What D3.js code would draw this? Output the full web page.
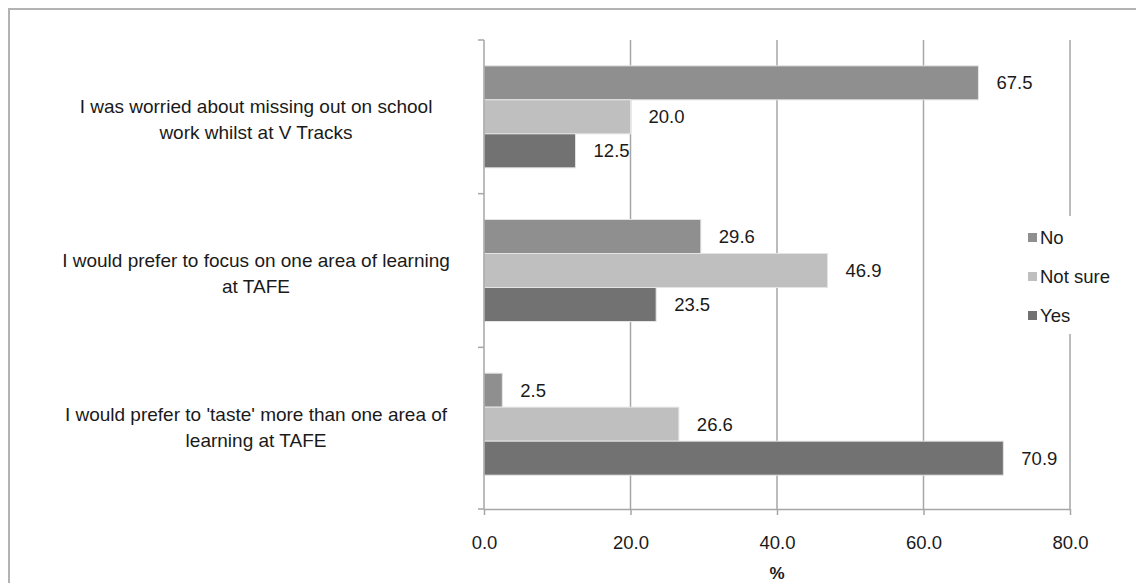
<html>
<head>
<meta charset="utf-8">
<script src="https://d3js.org/d3.v7.min.js"></script>
<style>
    body { margin: 0; background: #fff; }
    text { font-family: "Liberation Sans", Arial, sans-serif; fill: #1a1a1a; }
</style>
</head>
<body>
<div id="chart"></div>
<script>
    // data
    var categories = [
        "I was worried about missing out on school\nwork whilst at V Tracks",
        "I would prefer to focus on one area of learning\nat TAFE",
        "I would prefer to 'taste' more than one area of\nlearning at TAFE"
    ];
    var seriesNames = ["No", "Not sure", "Yes"];
    var noValues = [67.5, 29.6, 2.5];
    var notSureValues = [20.0, 46.9, 26.6];
    var yesValues = [12.5, 23.5, 70.9];
    var xTicks = [0, 20, 40, 60, 80];

    var colors = { "No": "#8f8f8f", "Not sure": "#bfbfbf", "Yes": "#727272" };
    var seriesValues = { "No": noValues, "Not sure": notSureValues, "Yes": yesValues };

    var width = 1136, height = 583;
    var plotLeft = 484, plotRight = 1070, plotTop = 40, plotBottom = 509;

    var svg = d3.select("#chart").append("svg")
        .attr("width", width)
        .attr("height", height);

    // outer border (only left/top visible in the crop)
    svg.append("rect")
        .attr("x", 9).attr("y", 9)
        .attr("width", 1160).attr("height", 620)
        .attr("fill", "none")
        .attr("stroke", "#b3b3b3")
        .attr("stroke-width", 2);

    var x = d3.scaleLinear().domain([0, 80]).range([plotLeft, plotRight]);
    // excel leaves a bit of room under the last category
    var y = d3.scaleBand().domain(categories).range([plotTop, 501]);
    var ySub = d3.scaleBand().domain(seriesNames).range([0, y.bandwidth()])
        .paddingInner(0).paddingOuter(0.76);

    // vertical gridlines
    svg.append("g").selectAll("line")
        .data(xTicks.slice(1))
        .enter().append("line")
        .attr("x1", d => x(d)).attr("x2", d => x(d))
        .attr("y1", plotTop).attr("y2", plotBottom)
        .attr("stroke", "#a6a6a6")
        .attr("stroke-width", 1.5);

    // bars
    var rows = [];
    categories.forEach(function (c, i) {
        seriesNames.forEach(function (s) {
            rows.push({ cat: c, series: s, value: seriesValues[s][i] });
        });
    });

    svg.append("g").selectAll("rect")
        .data(rows)
        .enter().append("rect")
        .attr("x", x(0))
        .attr("y", d => y(d.cat) + ySub(d.series))
        .attr("width", d => x(d.value) - x(0))
        .attr("height", ySub.bandwidth())
        .attr("fill", d => colors[d.series])
        .attr("stroke", "#e4e4e4")
        .attr("stroke-width", 1);

    // value labels
    svg.append("g").selectAll("text")
        .data(rows)
        .enter().append("text")
        .attr("x", d => x(d.value) + 18)
        .attr("y", d => y(d.cat) + ySub(d.series) + ySub.bandwidth() / 2)
        .attr("dy", "0.35em")
        .style("font-size", "18.5px")
        .text(d => d.value.toFixed(1));

    // x axis
    var xAxis = svg.append("g")
        .attr("transform", "translate(0," + plotBottom + ")")
        .call(d3.axisBottom(x).tickValues(xTicks).tickFormat(d3.format(".1f"))
            .tickSize(6).tickSizeOuter(0).tickPadding(21));
    xAxis.select(".domain").attr("stroke", "#a6a6a6").attr("stroke-width", 1.5);
    xAxis.selectAll(".tick line").attr("stroke", "#a6a6a6").attr("stroke-width", 1.5);
    xAxis.selectAll(".tick text")
        .style("font-size", "18.5px")
        .style("font-family", "Liberation Sans, Arial, sans-serif")
        .attr("fill", "#1a1a1a");

    svg.append("text")
        .attr("x", (plotLeft + plotRight) / 2)
        .attr("y", 573)
        .attr("dy", "0.35em")
        .attr("text-anchor", "middle")
        .style("font-size", "17px")
        .style("font-weight", "bold")
        .text("%");

    // y axis line with ticks at the band edges
    svg.append("line")
        .attr("x1", plotLeft).attr("x2", plotLeft)
        .attr("y1", plotTop).attr("y2", plotBottom)
        .attr("stroke", "#a6a6a6")
        .attr("stroke-width", 1.5);
    var edges = categories.map(c => y(c)).concat([plotBottom]);
    svg.append("g").selectAll("line")
        .data(edges)
        .enter().append("line")
        .attr("x1", plotLeft - 6).attr("x2", plotLeft)
        .attr("y1", d => d).attr("y2", d => d)
        .attr("stroke", "#a6a6a6")
        .attr("stroke-width", 1.5);

    // category labels
    var labels = svg.append("g").selectAll("text")
        .data(categories)
        .enter().append("text")
        .attr("text-anchor", "middle")
        .style("font-size", "19px");
    labels.each(function (c) {
        var lines = c.split("\n");
        var cy = y(c) + y.bandwidth() / 2 + 3;
        var lh = 26;
        d3.select(this).selectAll("tspan")
            .data(lines)
            .enter().append("tspan")
            .attr("x", 256)
            .attr("y", (d, i) => cy + (i - (lines.length - 1) / 2) * lh)
            .attr("dy", "0.35em")
            .text(d => d);
    });

    // legend
    var legend = svg.append("g");
    legend.append("rect")
        .attr("x", 1020).attr("y", 216)
        .attr("width", 100).attr("height", 118)
        .attr("fill", "#fff");
    var items = legend.selectAll("g.item")
        .data(seriesNames)
        .enter().append("g")
        .attr("class", "item")
        .attr("transform", (d, i) => "translate(1028," + (238 + i * 39) + ")");
    items.append("rect")
        .attr("x", 0).attr("y", -5)
        .attr("width", 9).attr("height", 9)
        .attr("fill", d => colors[d]);
    items.append("text")
        .attr("x", 12)
        .attr("dy", "0.35em")
        .style("font-size", "18.5px")
        .text(d => d);
</script>
</body>
</html>
